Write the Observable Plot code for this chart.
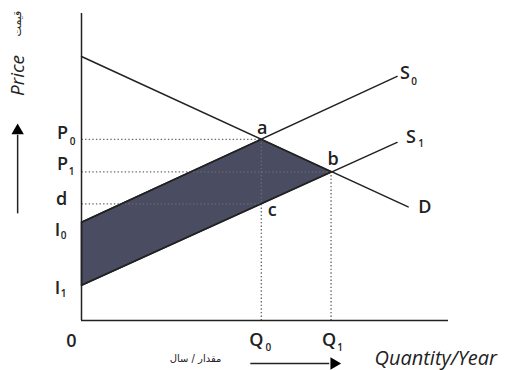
<!DOCTYPE html>
<html><head><meta charset="utf-8">
<script src="https://cdn.jsdelivr.net/npm/d3@7"></script>
<script src="https://cdn.jsdelivr.net/npm/@observablehq/plot@0.6"></script>
<style>body{margin:0;background:#fff}svg{display:block}</style>
</head><body><div id="chart"></div>
<script>
// quantity levels on the x axis
const quantityNames = ["Q", "Q"];
const quantitySubs = ["0", "1"];
const quantityValues = [49, 68];
// price levels on the y axis
const priceNames = ["P", "P", "d", "I", "I"];
const priceSubs = ["0", "1", "", "0", "1"];
const priceValues = [59, 48.4, 38, 32, 11.5];
// curves (quantity, price)
const demandLine = [[0, 86], [89, 37]];
const supply0Line = [[0, 32], [86, 79.5]];
const supply1Line = [[0, 11.5], [86, 58]];
const shadedArea = [[0, 32], [49, 59], [68, 48.4], [0, 11.5]];
// named points
const pointNames = ["a", "b", "c"];
const pointX = [49, 68, 49];
const pointY = [59, 48.4, 38];
// decorative axis arrows (in chart units)
const upArrow = {x: -17.4, y1: 34.9, y2: 60.5, head: 61.8};
const rightArrow = {y: -14.0, x1: 46.0, x2: 67.5, head: 68.8};

const ink = "#222";
const dotStyle = {stroke: "#6a6a6a", strokeWidth: 1.4, strokeDasharray: "1.4 2.2"};
const font = "Open Sans";
const zero = () => 0;

const marks = [];
// shaded area (closed polygon)
marks.push(Plot.line(shadedArea, {x: d => d[0], y: d => d[1], fill: "#4a4d62", stroke: ink, strokeWidth: 1.5, curve: "linear-closed"}));
// dotted guides
marks.push(Plot.link(priceValues.slice(0, 3).map((v, i) => ({v, e: pointX[i]})), {x1: zero, x2: d => d.e, y1: d => d.v, y2: d => d.v, ...dotStyle}));
marks.push(Plot.link(quantityValues.map((v, i) => ({v, e: pointY[i]})), {x1: d => d.v, x2: d => d.v, y1: zero, y2: d => d.e, ...dotStyle}));
// curves
for (const c of [demandLine, supply0Line, supply1Line]) {
  marks.push(Plot.line(c, {x: d => d[0], y: d => d[1], stroke: ink, strokeWidth: 1.5}));
}
// axes
marks.push(Plot.ruleX([0], {x: d => d, stroke: ink, strokeWidth: 1.5}));
marks.push(Plot.ruleY([0], {y: d => d, stroke: ink, strokeWidth: 1.5}));

const big = {fontFamily: font, fontSize: 18, fontWeight: 600, fill: ink};
const small = {fontFamily: font, fontSize: 10, fontWeight: 600, fill: ink};
// price labels: main offsets and subscript offsets
const pOff = [[-19, -6, -9, 2], [-19, -8, -10, 0], [-20, -5, 0, 0], [-24, 8, -18, 14], [-24, 3, -18, 9]];
priceNames.forEach((n, i) => {
  const [dx, dy, sdx, sdy] = pOff[i];
  marks.push(Plot.text([priceValues[i]], {x: zero, y: d => d, text: () => n, dx, dy, ...big}));
  if (priceSubs[i]) marks.push(Plot.text([priceValues[i]], {x: zero, y: d => d, text: () => priceSubs[i], dx: sdx, dy: sdy, ...small}));
});
// quantity labels
const qOff = [[-5, 20, 7, 27], [-2, 20, 9, 27]];
quantityNames.forEach((n, i) => {
  const [dx, dy, sdx, sdy] = qOff[i];
  marks.push(Plot.text([quantityValues[i]], {x: d => d, y: zero, text: () => n, dx, dy, ...big}));
  marks.push(Plot.text([quantityValues[i]], {x: d => d, y: zero, text: () => quantitySubs[i], dx: sdx, dy: sdy, ...small}));
});
// origin
marks.push(Plot.text(["0"], {x: zero, y: zero, text: d => d, dx: -10, dy: 21, ...big}));
// point labels
const ptOff = [[1, -11], [2, -13], [11, 6]];
pointNames.forEach((n, i) => {
  marks.push(Plot.text([n], {x: () => pointX[i], y: () => pointY[i], text: d => d, dx: ptOff[i][0], dy: ptOff[i][1], ...big}));
});
// curve end labels
const endOf = (c) => ({x: () => c[1][0], y: () => c[1][1]});
marks.push(Plot.text(["S"], {...endOf(supply0Line), text: d => d, dx: 3, dy: -3, textAnchor: "start", ...big}));
marks.push(Plot.text(["0"], {...endOf(supply0Line), text: d => d, dx: 17, dy: 5, ...small}));
marks.push(Plot.text(["S"], {...endOf(supply1Line), text: d => d, dx: 9, dy: -5, textAnchor: "start", ...big}));
marks.push(Plot.text(["1"], {...endOf(supply1Line), text: d => d, dx: 24, dy: 1, ...small}));
marks.push(Plot.text(["D"], {...endOf(demandLine), text: d => d, dx: 10, dy: 0, textAnchor: "start", ...big}));

// axis titles
const mid = {textAnchor: "middle", lineAnchor: "middle"};
marks.push(Plot.text(["Price"], {frameAnchor: "top-left", text: d => d, dx: -64, dy: 62, rotate: -90, ...mid, fontFamily: font, fontStyle: "italic", fontSize: 19, fill: ink}));
marks.push(Plot.text(["قیمت"], {frameAnchor: "top-left", text: d => d, dx: -64, dy: 10, rotate: -90, ...mid, fontFamily: "DejaVu Sans", fontSize: 11, fill: ink}));
marks.push(Plot.text(["Quantity/Year"], {frameAnchor: "bottom-left", text: d => d, dx: 293, dy: 38, textAnchor: "start", lineAnchor: "middle", fontFamily: font, fontStyle: "italic", fontSize: 20, fill: ink}));
marks.push(Plot.text(["مقدار / سال"], {frameAnchor: "bottom-left", text: d => d, dx: 114, dy: 38, ...mid, fontFamily: "DejaVu Sans", fontSize: 10, fill: ink}));
// arrows
marks.push(Plot.link([upArrow], {x1: d => d.x, x2: d => d.x, y1: d => d.y1, y2: d => d.y2, stroke: ink, strokeWidth: 1.5}));
marks.push(Plot.dot([upArrow], {x: d => d.x, y: d => d.head, symbol: "triangle", r: 4.6, fill: "#000", stroke: "none"}));
marks.push(Plot.link([rightArrow], {x1: d => d.x1, x2: d => d.x2, y1: d => d.y, y2: d => d.y, stroke: ink, strokeWidth: 1.5}));
marks.push(Plot.dot([rightArrow], {x: d => d.head, y: d => d.y, symbol: "triangle", rotate: 90, r: 4.6, fill: "#000", stroke: "none"}));

const chart = Plot.plot({
  width: 508, height: 370,
  marginLeft: 81, marginRight: 60, marginTop: 13, marginBottom: 50,
  x: {domain: [0, 100], axis: null},
  y: {domain: [0, 100], axis: null},
  style: {background: "white", overflow: "visible"},
  marks
});
document.getElementById("chart").appendChild(chart);
</script>
</body></html>
